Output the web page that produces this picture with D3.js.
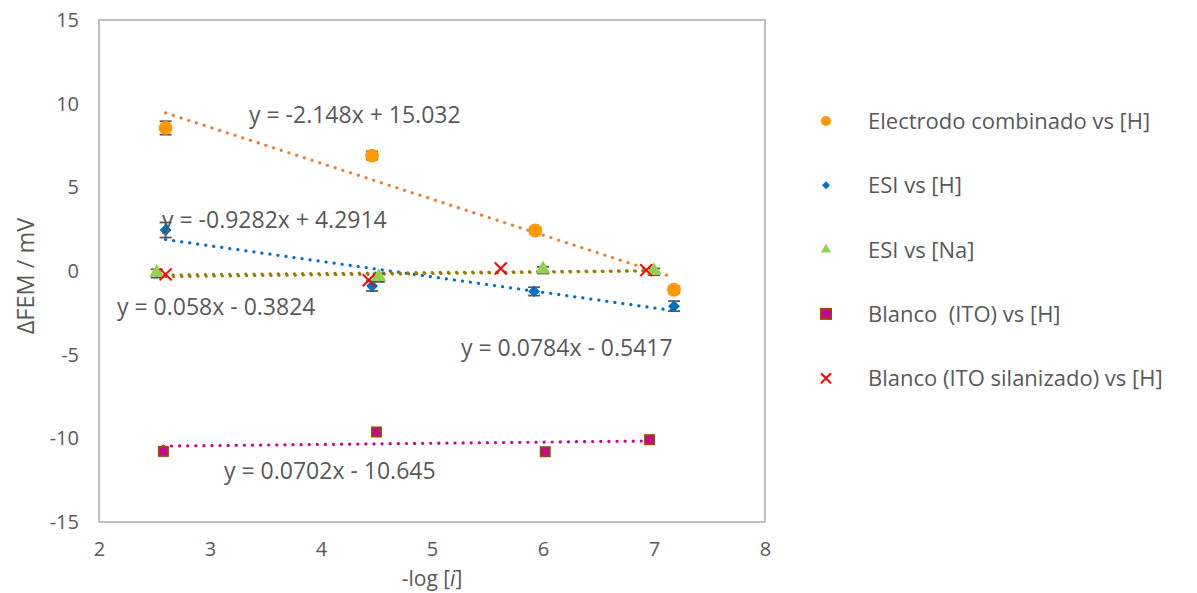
<!DOCTYPE html>
<html><head><meta charset="utf-8">
<script src="https://cdn.jsdelivr.net/npm/d3@7"></script>
<style>
body{margin:0;background:#fff;}
text{font-family:"Open Sans","Noto Sans",sans-serif;fill:#595959;white-space:pre;}
</style></head><body>
<svg id="c" width="1197" height="593"></svg>
<script>
// ---- data ----
const xTicks = [2,3,4,5,6,7,8];
const yTicks = [-15,-10,-5,0,5,10,15];

const combX = [2.60, 4.46, 5.93, 7.18];
const combY = [8.55, 6.90, 2.42, -1.12];
const combErr = [0.40, 0.25, 0.20, 0.20];

const esiHX = [2.60, 4.46, 5.92, 7.18];
const esiHY = [2.45, -0.90, -1.22, -2.10];
const esiHErr = [0.45, 0.30, 0.25, 0.30];

const esiNaX = [2.52, 4.52, 6.00, 7.00];
const esiNaY = [-0.15, -0.40, 0.05, -0.05];
const esiNaErr = [0.25, 0.25, 0.20, 0.20];

const itoX = [2.58, 4.50, 6.02, 6.96];
const itoY = [-10.78, -9.62, -10.80, -10.08];

const silX = [2.60, 4.43, 5.62, 6.93];
const silY = [-0.20, -0.55, 0.15, 0.05];

const trends = [
  {name:"comb", m:-2.148, b:15.032, x0:2.60, x1:7.18, color:"#ED7D31"},
  {name:"esiH", m:-0.9282, b:4.2914, x0:2.60, x1:7.18, color:"#0070C0"},
  {name:"esiNa", m:0.058, b:-0.3824, x0:2.52, x1:7.00, color:"#9C7A00"},
  {name:"sil", m:0.0784, b:-0.5417, x0:2.60, x1:6.93, color:"#9C7A00"},
  {name:"ito", m:0.0702, b:-10.645, x0:2.58, x1:6.96, color:"#CC0099"}
];
const eqLabels = [
  {t:"y = -2.148x + 15.032", x:249, y:122},
  {t:"y = -0.9282x + 4.2914", x:162, y:227},
  {t:"y = 0.058x - 0.3824", x:117, y:314},
  {t:"y = 0.0784x - 0.5417", x:461, y:355},
  {t:"y = 0.0702x - 10.645", x:224, y:478}
];
const legendLabels = ["Electrodo combinado vs [H]","ESI vs [H]","ESI vs [Na]","Blanco  (ITO) vs [H]","Blanco (ITO silanizado) vs [H]"];

// ---- chart ----
const svg = d3.select("#c");
const L=99, R=765, T=20, B=522;
const x = d3.scaleLinear().domain([2,8]).range([L,R]);
const y = d3.scaleLinear().domain([-15,15]).range([B,T]);

svg.append("rect").attr("x",L).attr("y",T).attr("width",R-L).attr("height",B-T)
  .attr("fill","none").attr("stroke","#BFBFBF").attr("stroke-width",2);

// axes (labels only)
const xa = svg.append("g").attr("transform",`translate(0,${B})`)
  .call(d3.axisBottom(x).tickValues(xTicks).tickSize(0).tickPadding(20).tickFormat(d=>String(d)));
xa.select(".domain").remove();
xa.selectAll("text").attr("font-size",20).attr("fill","#595959").style("font-family","Open Sans");
const ya = svg.append("g").attr("transform",`translate(${L},0)`)
  .call(d3.axisLeft(y).tickValues(yTicks).tickSize(0).tickPadding(20).tickFormat(d=>String(d)));
ya.select(".domain").remove();
ya.selectAll("text").attr("font-size",20).attr("fill","#595959").style("font-family","Open Sans");

// titles
const xt = svg.append("text").attr("x",432).attr("y",586).attr("text-anchor","middle").attr("font-size",21);
xt.append("tspan").text("-log [");
xt.append("tspan").attr("font-style","italic").text("i");
xt.append("tspan").text("]");
svg.append("text").attr("transform","translate(34,276) rotate(-90)").attr("text-anchor","middle")
  .attr("font-size",23.5).text("ΔFEM / mV");

// trendlines
trends.forEach(t=>{
  svg.append("line").attr("x1",x(t.x0)).attr("y1",y(t.m*t.x0+t.b))
    .attr("x2",x(t.x1)).attr("y2",y(t.m*t.x1+t.b))
    .attr("stroke",t.color).attr("stroke-width",3.2).attr("stroke-linecap","round")
    .attr("stroke-dasharray","0.1 8");
});

// error bars
function errBars(xs,ys,es){
  const g=svg.append("g").attr("stroke","#595959").attr("stroke-width",1.8);
  xs.forEach((xv,i)=>{
    const cx=x(xv), y1=y(ys[i]+es[i]), y2=y(ys[i]-es[i]);
    g.append("line").attr("x1",cx).attr("x2",cx).attr("y1",y1).attr("y2",y2);
    g.append("line").attr("x1",cx-6).attr("x2",cx+6).attr("y1",y1).attr("y2",y1);
    g.append("line").attr("x1",cx-6).attr("x2",cx+6).attr("y1",y2).attr("y2",y2);
  });
}
errBars(combX,combY,combErr);
errBars(esiHX,esiHY,esiHErr);
errBars(esiNaX,esiNaY,esiNaErr);

// markers
const sym = {
  circle: d3.symbol().type(d3.symbolCircle).size(150),
  diamond: d3.symbol().type(d3.symbolDiamond2).size(90),
  tri: d3.symbol().type(d3.symbolTriangle).size(95),
};
function drawMarker(g,kind,cx,cy){
  if(kind==="circle") g.append("path").attr("d",sym.circle()).attr("transform",`translate(${cx},${cy})`).attr("fill","#FF9900");
  else if(kind==="diamond") g.append("path").attr("d",sym.diamond()).attr("transform",`translate(${cx},${cy})`).attr("fill","#0070C0");
  else if(kind==="tri") g.append("path").attr("d",sym.tri()).attr("transform",`translate(${cx},${cy-1})`).attr("fill","#92D050");
  else if(kind==="square") g.append("rect").attr("x",cx-4.5).attr("y",cy-4.5).attr("width",9).attr("height",9)
      .attr("fill","#CC0099").attr("stroke","#984807").attr("stroke-width",2);
  else if(kind==="x"){
    g.append("path").attr("d",`M${cx-6},${cy-6}L${cx+6},${cy+6}M${cx-6},${cy+6}L${cx+6},${cy-6}`)
      .attr("stroke","#FF0000").attr("stroke-width",2);
  }
}
const mg = svg.append("g");
combX.forEach((v,i)=>drawMarker(mg,"circle",x(v),y(combY[i])));
esiHX.forEach((v,i)=>drawMarker(mg,"diamond",x(v),y(esiHY[i])));
esiNaX.forEach((v,i)=>drawMarker(mg,"tri",x(v),y(esiNaY[i])));
itoX.forEach((v,i)=>drawMarker(mg,"square",x(v),y(itoY[i])));
silX.forEach((v,i)=>drawMarker(mg,"x",x(v),y(silY[i])));

// equation labels
eqLabels.forEach(e=>{
  svg.append("text").attr("x",e.x).attr("y",e.y+1).attr("font-size",23).text(e.t);
});

// legend
const kinds=["circle","diamond","tri","square","x"];
const lg = svg.append("g");
legendLabels.forEach((lab,i)=>{
  const cy = 121 + i*64.3;
  const k = kinds[i];
  if(k==="circle") lg.append("circle").attr("cx",826).attr("cy",cy).attr("r",5).attr("fill","#FF9900");
  else if(k==="diamond") lg.append("path").attr("d",d3.symbol().type(d3.symbolDiamond2).size(40)()).attr("transform",`translate(826,${cy})`).attr("fill","#0070C0");
  else if(k==="tri") lg.append("path").attr("d",d3.symbol().type(d3.symbolTriangle).size(45)()).attr("transform",`translate(826,${cy})`).attr("fill","#92D050");
  else if(k==="square") lg.append("rect").attr("x",821).attr("y",cy-5).attr("width",10).attr("height",10).attr("fill","#CC0099").attr("stroke","#984807").attr("stroke-width",2);
  else lg.append("path").attr("d",`M${821},${cy-5}L${831},${cy+5}M${821},${cy+5}L${831},${cy-5}`).attr("stroke","#FF0000").attr("stroke-width",2);
  lg.append("text").attr("x",868).attr("y",cy+8).attr("font-size",22).text(lab);
});
</script>
</body></html>
